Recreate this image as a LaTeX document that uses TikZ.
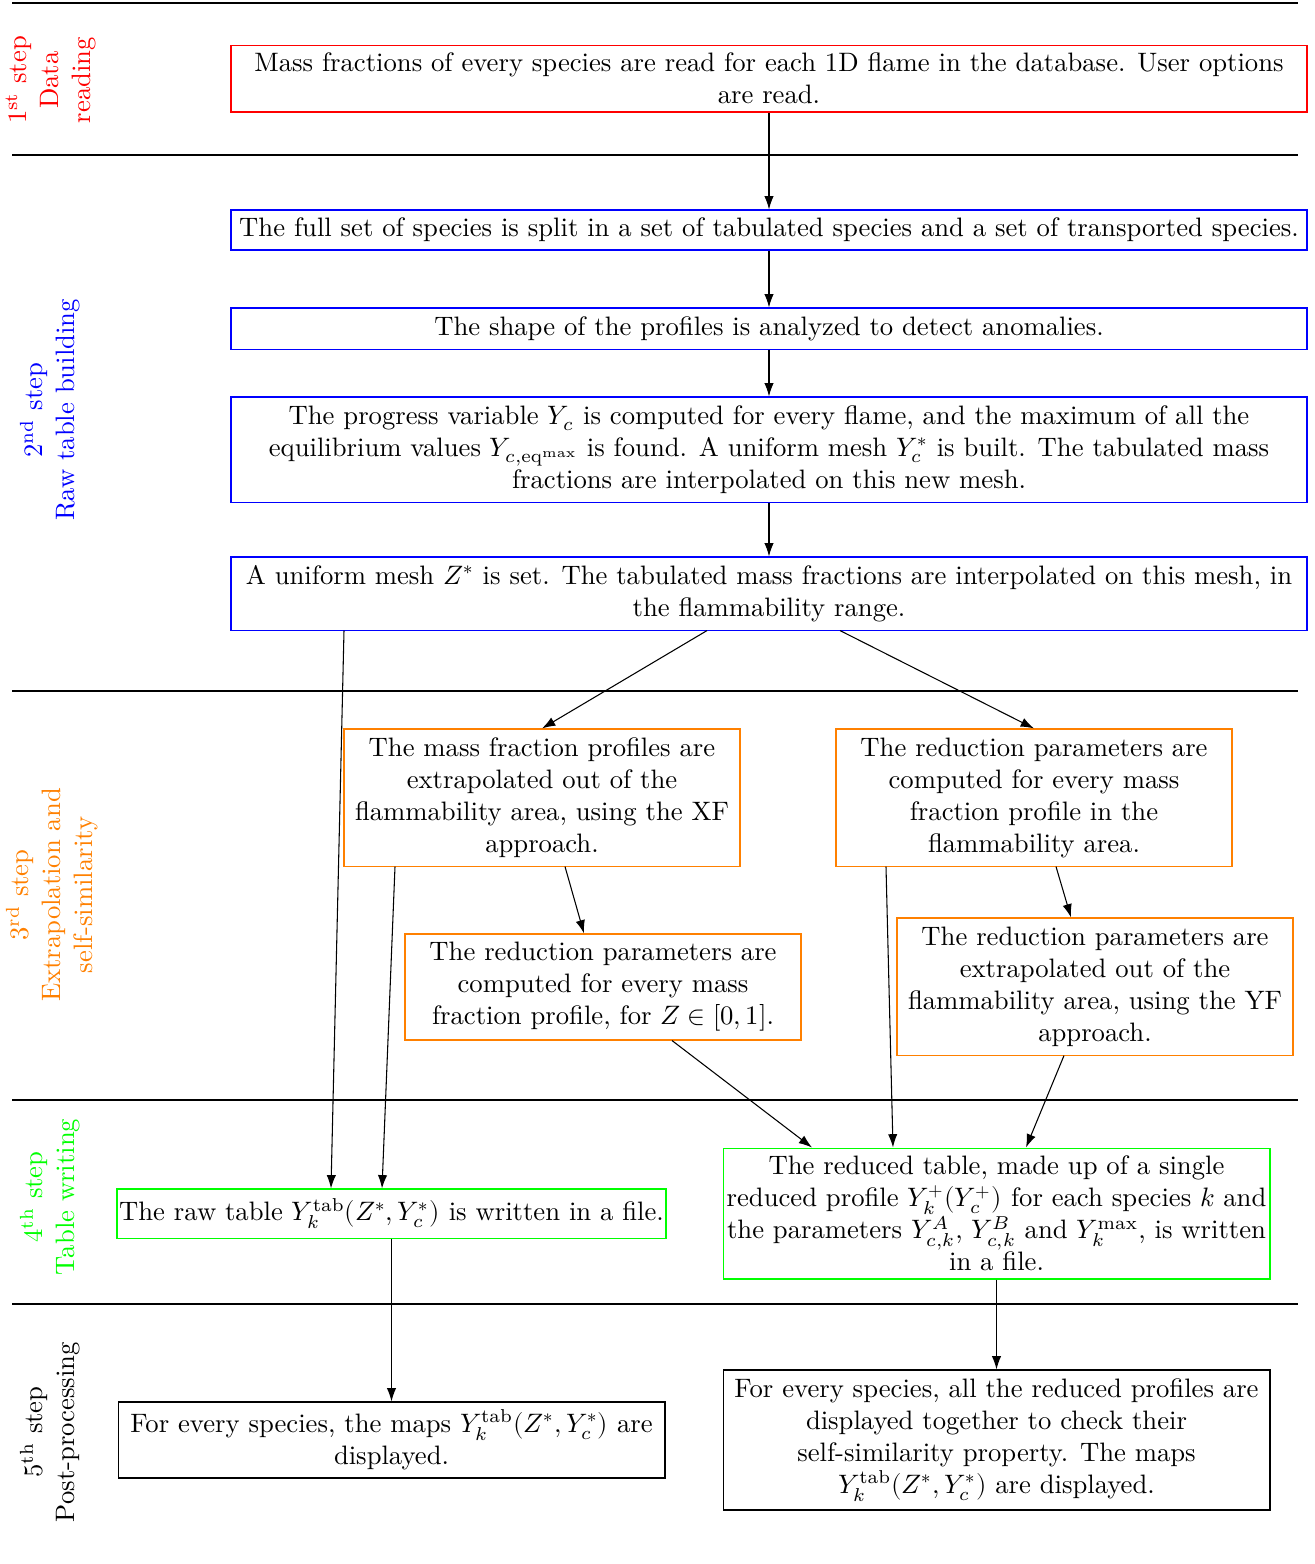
\documentclass[tikz,border=0pt]{standalone}
\usepackage{unicode-math}
\setmathfont{Latin Modern Math}
\usetikzlibrary{calc,arrows.meta}
\definecolor{orng}{RGB}{255,128,0}
\definecolor{grn}{RGB}{0,255,0}
\tikzset{
  box/.style={draw, align=center, inner sep=2pt, font=\normalsize},
  wide/.style={box, minimum width=403.5pt},
  mid/.style={box, minimum width=148.5pt},
  low/.style={box, inner xsep=0.8pt, minimum width=205.1pt},
  arr/.style={-{Latex[length=5pt,width=3.5pt]}, line width=0.4pt},
  sep/.style={line width=0.4pt},
  side/.style={rotate=90, align=center, font=\normalsize}
}
\begin{document}
\begin{tikzpicture}[x=0.375pt,y=-0.375pt]
\useasboundingbox (0,0) rectangle (1315,1564);
% separators
\foreach \yy in {3,155,691,1100,1304} \draw[sep] (12,\yy) -- (1298,\yy);
% side labels
\node[side, text=red] (s1) at (51,80) {1\textsuperscript{st} step\\Data\\reading};
\node[side, text=blue] (s2) at (50,410) {2\textsuperscript{nd} step\\Raw table building};
\node[side, text=orng] (s3) at (52,895) {3\textsuperscript{rd} step\\Extrapolation and\\self-similarity};
\node[side, text=grn] (s4) at (50,1197) {4\textsuperscript{th} step\\Table writing};
\node[side] (s5) at (50,1432) {5\textsuperscript{th} step\\Post-processing};
% boxes
\node[wide, draw=red, minimum height=25.1pt] (b1) at (769,78.5) {Mass fractions of every species are read for each 1D flame in the database. User options\\are read.};
\node[wide, draw=blue, minimum height=15pt] (b2) at (769,230) {The full set of species is split in a set of tabulated species and a set of transported species.};
\node[wide, draw=blue, minimum height=15.4pt] (b3) at (769,328.5) {The shape of the profiles is analyzed to detect anomalies.};
\node[wide, draw=blue, minimum height=39.4pt] (b4) at (769,449.5) {The progress variable $Y_c$ is computed for every flame, and the maximum of all the\\equilibrium values $Y_{c,\mathrm{eq}^{\max}}$ is found. A uniform mesh $Y_c^*$ is built. The tabulated mass\\fractions are interpolated on this new mesh.};
\node[wide, draw=blue, minimum height=27.4pt] (b5) at (769,593.5) {A uniform mesh $Z^*$ is set. The tabulated mass fractions are interpolated on this mesh, in\\the flammability range.};
\node[mid, draw=orng, minimum height=51.4pt] (b6) at (542,797.5) {The mass fraction profiles are\\extrapolated out of the\\flammability area, using the XF\\approach.};
\node[mid, draw=orng, minimum height=51.4pt] (b7) at (1034,797.5) {The reduction parameters are\\computed for every mass\\fraction profile in the\\flammability area.};
\node[mid, draw=orng, minimum height=39.75pt] (b8) at (603,987) {The reduction parameters are\\computed for every mass\\fraction profile, for $Z\in[0,1]$.};
\node[mid, draw=orng, minimum height=51.4pt] (b9) at (1095,986.5) {The reduction parameters are\\extrapolated out of the\\flammability area, using the YF\\approach.};
\node[low, draw=grn, minimum height=18.4pt] (b10) at (391.5,1213.5) {The raw table $Y_k^{\mathrm{tab}}(Z^*,Y_c^*)$ is written in a file.};
\node[low, draw=grn, minimum height=49.1pt] (b11) at (996.5,1213.5) {The reduced table, made up of a single\\reduced profile $Y_k^+(Y_c^+)$ for each species $k$ and\\the parameters $Y_{c,k}^A$, $Y_{c,k}^B$ and $Y_k^{\max}$, is written\\in a file.};
\node[low, minimum height=28.5pt] (b12) at (391.5,1440) {For every species, the maps $Y_k^{\mathrm{tab}}(Z^*,Y_c^*)$ are\\displayed.};
\node[low, minimum height=52.5pt] (b13) at (996.5,1440) {For every species, all the reduced profiles are\\displayed together to check their\\self-similarity property. The maps\\$Y_k^{\mathrm{tab}}(Z^*,Y_c^*)$ are displayed.};
% arrows
\draw[arr] (b1) -- (b2);
\draw[arr] (b2) -- (b3);
\draw[arr] (b3) -- (b4);
\draw[arr] (b4) -- (b5);
\draw[arr] ($(b5.south)+(-62,0)$) -- (b6.north);
\draw[arr] ($(b5.south)+(71,0)$) -- (b7.north);
\draw[arr] ($(b5.south)+(-425,0)$) -- ($(b10.north)+(-60.5,0)$);
\draw[arr] ($(b6.south)+(-147,0)$) -- ($(b10.north)+(-9.5,0)$);
\draw[arr] ($(b6.south)+(23,0)$) -- ($(b8.north)+(-19,0)$);
\draw[arr] ($(b7.south)+(22,0)$) -- ($(b9.north)+(-24,0)$);
\draw[arr] ($(b7.south)+(-148,0)$) -- ($(b11.north)+(-103.5,0)$);
\draw[arr] ($(b8.south)+(69,0)$) -- ($(b11.north)+(-184.5,0)$);
\draw[arr] ($(b9.south)+(-31,0)$) -- ($(b11.north)+(29.5,0)$);
\draw[arr] (b10) -- (b12);
\draw[arr] (b11) -- (b13);
\end{tikzpicture}
\end{document}
